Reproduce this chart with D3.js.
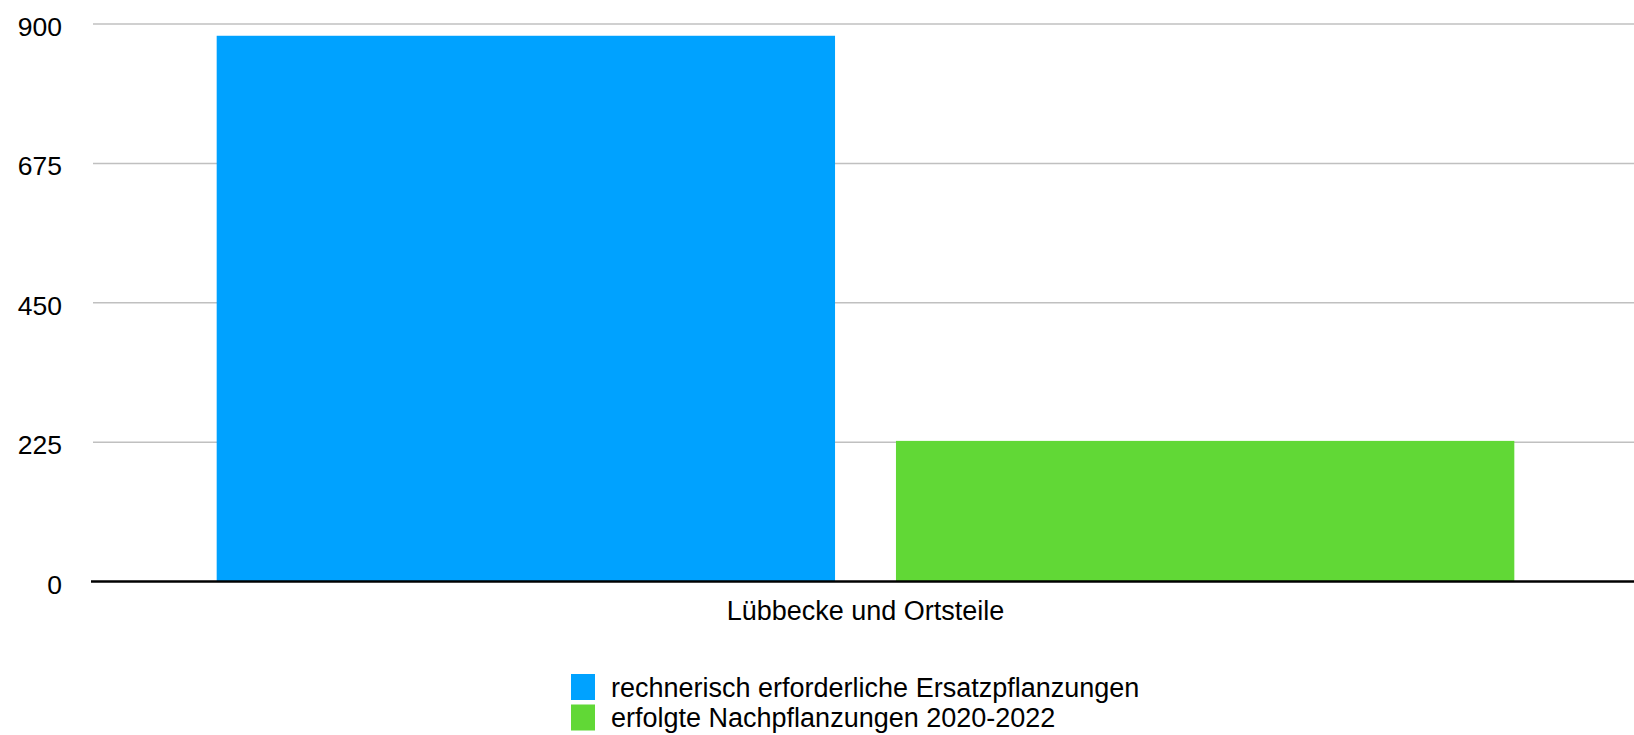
<!DOCTYPE html>
<html>
<head>
<meta charset="utf-8">
<script src="https://cdn.jsdelivr.net/npm/d3@7"></script>
<style>
  html, body { margin: 0; padding: 0; background: #fff; }
  svg { display: block; font-family: "Liberation Sans", Arial, Helvetica, sans-serif; }
</style>
</head>
<body>
<svg id="chart" width="1634" height="735"></svg>
<script>
// ---- data ----
const categories = ["Lübbecke und Ortsteile"];
const seriesNames = ["rechnerisch erforderliche Ersatzpflanzungen", "erfolgte Nachpflanzungen 2020-2022"];
const seriesColors = ["#00A2FF", "#61D836"];
const seriesValues = [[881], [227]];
const yTicks = [0, 225, 450, 675, 900];

// ---- layout ----
const W = 1634, H = 735;
const plot = { left: 93, right: 1634, top: 24, bottom: 581.5 };

const svg = d3.select("#chart");

const y = d3.scaleLinear().domain([0, 900]).range([plot.bottom, plot.top]);
const x0 = d3.scaleBand().domain(categories).range([plot.left + 3, plot.right + 1])
  .paddingInner(0).paddingOuter(0.093);
const x1 = d3.scaleBand().domain(seriesNames).range([0, x0.bandwidth()])
  .paddingInner(0.0897).paddingOuter(0);

// gridlines
svg.append("g")
  .selectAll("line")
  .data(yTicks.filter(d => d !== 0))
  .join("line")
  .attr("x1", plot.left).attr("x2", plot.right)
  .attr("y1", d => y(d)).attr("y2", d => y(d))
  .attr("stroke", "#c0c0c0").attr("stroke-width", 1.5);

// y tick labels
svg.append("g")
  .selectAll("text")
  .data(yTicks)
  .join("text")
  .attr("x", 62)
  .attr("y", d => y(d) + 12)
  .attr("text-anchor", "end")
  .attr("font-size", 26.5)
  .attr("fill", "#000")
  .text(d => d);

// bars
const groups = svg.append("g")
  .selectAll("g")
  .data(categories)
  .join("g")
  .attr("transform", d => `translate(${x0(d)},0)`);

groups.selectAll("rect")
  .data((d, ci) => seriesNames.map((s, si) => ({ s, si, v: seriesValues[si][ci] })))
  .join("rect")
  .attr("x", d => x1(d.s))
  .attr("width", x1.bandwidth())
  .attr("y", d => y(d.v))
  .attr("height", d => y(0) - y(d.v))
  .attr("fill", d => seriesColors[d.si]);

// baseline
svg.append("line")
  .attr("x1", 91).attr("x2", plot.right)
  .attr("y1", y(0)).attr("y2", y(0))
  .attr("stroke", "#000").attr("stroke-width", 2.5);

// category labels
svg.append("g")
  .selectAll("text")
  .data(categories)
  .join("text")
  .attr("x", d => x0(d) + x0.bandwidth() / 2)
  .attr("y", 620)
  .attr("text-anchor", "middle")
  .attr("font-size", 27)
  .attr("fill", "#000")
  .text(d => d);

// legend
const legend = svg.append("g").attr("transform", "translate(571,674)");
const items = legend.selectAll("g")
  .data(seriesNames)
  .join("g")
  .attr("transform", (d, i) => `translate(0,${i * 30.5})`);
items.append("rect")
  .attr("x", 0).attr("y", 0)
  .attr("width", 24).attr("height", 26)
  .attr("fill", (d, i) => seriesColors[i]);
items.append("text")
  .attr("x", 40).attr("y", 22.5)
  .attr("font-size", 27)
  .attr("fill", "#000")
  .text(d => d);
</script>
</body>
</html>
